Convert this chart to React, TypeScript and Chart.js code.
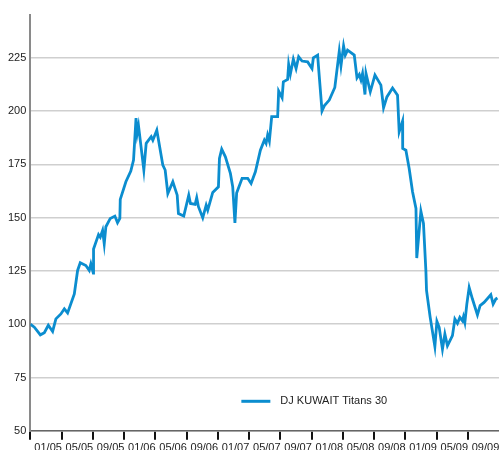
import React, { useEffect, useRef } from "react";
import { Chart, registerables } from "chart.js";

Chart.register(...registerables);

const seriesLabel = "DJ KUWAIT Titans 30";

// x position in months since 01/2005
const months = [
  0, 0.51, 1.28, 1.79, 2.3, 2.85, 3.27, 3.91, 4.35, 4.77, 5.63, 6.05, 6.39, 7.11, 7.54, 7.75, 8.06, 8.09,
  8.73, 8.95, 9.25, 9.46, 9.67, 10.23, 10.82, 11.16, 11.46, 11.51, 12.23, 12.86, 13.21, 13.53, 13.68, 13.85,
  14.53, 14.83, 15.47, 15.68, 16.19, 16.96, 17.26, 17.6, 18.24, 18.8, 18.96, 19.64, 20.28, 20.5, 21.1, 21.3,
  21.52, 22.07, 22.51, 22.71, 23.35, 24.08, 24.21, 24.5, 24.97, 25.61, 25.91, 26.19, 26.41, 27.11, 27.83,
  28.26, 28.81, 29.45, 29.96, 30.18, 30.38, 30.6, 30.9, 31.66, 31.79, 32.23, 32.39, 32.94, 33.07, 33.29,
  33.67, 34.02, 34.35, 34.78, 35.5, 36.06, 36.23, 36.78, 36.91, 37.34, 37.63, 38.27, 38.98, 39.45, 39.55,
  39.77, 40.1, 40.32, 40.61, 41.47, 41.82, 42.11, 42.33, 42.53, 42.84, 42.97, 43.52, 44.12, 44.88, 45.22,
  45.65, 46.37, 47.01, 47.22, 47.65, 47.67, 48.08, 48.5, 48.93, 49.37, 49.47, 50.0, 50.33, 50.64, 50.72,
  51.19, 51.79, 52.05, 52.34, 52.76, 53.07, 53.4, 54.04, 54.35, 54.68, 54.99, 55.32, 55.45, 55.63, 55.88,
  56.18, 56.6, 57.24, 57.58, 58.09, 58.95, 59.25, 59.59, 59.8,
];

const values = [
  100, 98.6, 95, 96, 99.5, 96.6, 102.5, 104.8, 107.2, 105.3, 114.2, 125.2, 128.8, 127.5, 125.2, 128.3, 124, 135.3,
  142, 140.8, 144, 137.7, 145.7, 149.6, 150.7, 147.6, 149.6, 158.5, 166.8, 171.8, 177, 196.7, 189.5, 193,
  172.3, 184.8, 187.9, 186.3, 191, 174.6, 172.3, 161.3, 166.8, 160.5, 151.9, 150.7, 160.5, 156.6, 156.2, 159.3,
  155.1, 149.9, 155.8, 153.5, 161.8, 164.4, 177.7, 182.1, 178.5, 170.7, 164.4, 147.5, 161.5, 168.4, 168.4,
  166, 171.5, 181.6, 186.3, 184.8, 188.7, 185.9, 197.3, 197.3, 209.3, 206.2, 213.7, 214.8, 221.8, 217.3,
  224.3, 219.9, 225.4, 223.4, 223, 219.9, 224.9, 226.2, 219.9, 200, 202.4, 205.1, 211, 225, 228,
  221.2, 230.5, 226.2, 228.5, 226.2, 215.5, 217.1, 214.5, 217.6, 207.7, 217.6, 209, 216.8, 212.1, 201.5,
  206.6, 210.8, 207.4, 190.2, 195.2, 182.4, 181.6, 173, 162.1, 154.3, 131, 153, 147.3, 125, 115.8,
  103.2, 89.5, 101.3, 98.5, 88.3, 95.4, 89.9, 94.6, 102.4, 100.4, 103.2, 101.6, 103.5, 100.8, 109.4,
  117.2, 111.8, 104.4, 108.7, 110.2, 113.8, 109.4, 111.8, 112.3,
];

const yTicks = [50, 75, 100, 125, 150, 175, 200, 225];
const xTickMonths = [0, 4, 8, 12, 16, 20, 24, 28, 32, 36, 40, 44, 48, 52, 56];

const FONT = "'Liberation Sans', Arial, sans-serif";
const LINE_COLOR = "#0b8dcf";

function monthLabel(v: number): string {
  if (!xTickMonths.includes(v)) return "";
  const m = (v % 12) + 1;
  const y = 5 + Math.floor(v / 12);
  return String(m).padStart(2, "0") + "/" + String(y).padStart(2, "0");
}

const legendPlugin = {
  id: "insideLegend",
  afterDraw(chart: any) {
    const { ctx, chartArea } = chart;
    const ds = chart.data.datasets[0];
    const y = chartArea.bottom - 29.5;
    const x0 = chartArea.left + 211;
    ctx.save();
    ctx.strokeStyle = ds.borderColor;
    ctx.lineWidth = 3;
    ctx.beginPath();
    ctx.moveTo(x0, y);
    ctx.lineTo(x0 + 29, y);
    ctx.stroke();
    ctx.fillStyle = "#222";
    ctx.font = "11px " + FONT;
    ctx.textBaseline = "middle";
    ctx.textAlign = "left";
    ctx.fillText(ds.label, x0 + 39, y);
    ctx.restore();
  },
};

export default function App() {
  const ref = useRef<HTMLCanvasElement | null>(null);

  useEffect(() => {
    if (!ref.current) return;
    const chart = new Chart(ref.current, {
      type: "line",
      data: {
        datasets: [
          {
            label: seriesLabel,
            data: months.map((m, i) => ({ x: m, y: values[i] })),
            borderColor: LINE_COLOR,
            borderWidth: 2.8,
            pointRadius: 0,
            tension: 0,
            fill: false,
          },
        ],
      },
      options: {
        responsive: false,
        animation: false,
        maintainAspectRatio: false,
        layout: { padding: { top: 15, left: 4, right: 0, bottom: 0 } },
        plugins: {
          legend: { display: false },
          tooltip: { enabled: false },
        },
        scales: {
          x: {
            type: "linear",
            min: 0,
            max: 60,
            afterBuildTicks: (scale: any) => {
              scale.ticks = xTickMonths.map((v) => ({ value: v }));
            },
            ticks: {
              autoSkip: false,
              maxRotation: 0,
              align: "start",
              labelOffset: 4,
              padding: 2,
              color: "#222",
              font: { family: FONT, size: 11 },
              callback: (v: any) => monthLabel(Number(v)),
            },
            grid: {
              drawOnChartArea: false,
              drawTicks: true,
              tickLength: 9,
              color: "#111",
              lineWidth: 2,
            },
            border: { display: true, color: "#666", width: 1.5 },
          },
          y: {
            type: "linear",
            min: 50,
            max: 245,
            afterBuildTicks: (scale: any) => {
              scale.ticks = yTicks.map((v) => ({ value: v }));
            },
            ticks: {
              padding: 4,
              color: "#222",
              font: { family: FONT, size: 11 },
            },
            grid: {
              drawTicks: false,
              color: "#cfcfcf",
              lineWidth: 1.5,
            },
            border: { display: true, color: "#8a8a8a", width: 2 },
          },
        },
      },
      plugins: [legendPlugin],
    });
    return () => chart.destroy();
  }, []);

  return (
    <div
      style={{
        position: "fixed",
        left: 0,
        top: 0,
        width: 499,
        height: 450,
        overflow: "hidden",
        background: "#fff",
      }}
    >
      <canvas ref={ref} width={499} height={457} style={{ display: "block" }} />
    </div>
  );
}
